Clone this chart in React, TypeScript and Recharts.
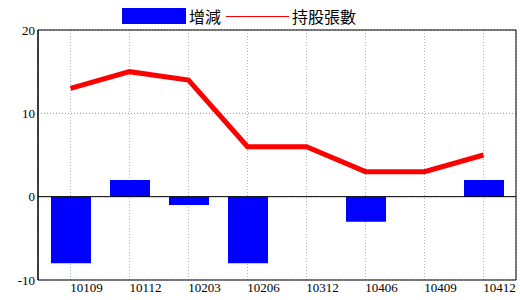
import React from 'react';
import {
  ComposedChart, Bar, Line, XAxis, YAxis, CartesianGrid, ReferenceLine,
} from 'recharts';

const MONTHS = ['10109', '10112', '10203', '10206', '10312', '10406', '10409', '10412'];
const CHANGE = [-8, 2, -1, -8, 0, -3, 0, 2];
const HOLDERS = [13, 15, 14, 6, 6, 3, 3, 5];
const Y_TICKS = [-10, 0, 10, 20];
const BAR_NAME = '增減';
const LINE_NAME = '持股張數';

const data = MONTHS.map((month, i) => ({ month, change: CHANGE[i], holders: HOLDERS[i] }));

const tickFont = { fontSize: 13, fill: '#000' };
const cjkFont = '"Noto Sans CJK TC", "Noto Sans CJK SC", sans-serif';

const App: React.FC = () => {
  return (
    <div
      style={{
        position: 'absolute', left: 0, top: 0, width: 520, height: 300,
        background: '#fff', fontFamily: '"Liberation Serif", "Times New Roman", serif',
      }}
    >
      {/* legend */}
      <div
        style={{
          position: 'absolute', left: 122, top: 6, height: 20,
          display: 'flex', alignItems: 'center', fontFamily: cjkFont, fontSize: 16, color: '#000',
        }}
      >
        <div style={{ width: 64, height: 16, background: '#0000ff' }} />
        <span style={{ marginLeft: 3 }}>{BAR_NAME}</span>
        <div style={{ width: 63, height: 1, background: '#ff0000', marginLeft: 5 }} />
        <span style={{ marginLeft: 3 }}>{LINE_NAME}</span>
      </div>

      <ComposedChart
        width={520}
        height={300}
        data={data}
        margin={{ top: 30, right: 4, bottom: 0, left: 0 }}
        barSize={40}
      >
        <CartesianGrid horizontal={false} stroke="#9bbccb" strokeDasharray="1 2" />
        <CartesianGrid vertical={false} stroke="#999999" strokeDasharray="1 2" />
        {/* top and right edges of the frame */}
        <CartesianGrid
          stroke="#000"
          horizontalCoordinatesGenerator={({ offset }: any) => [offset.top]}
          verticalCoordinatesGenerator={({ offset }: any) => [offset.left + offset.width]}
        />
        <XAxis
          dataKey="month"
          height={20}
          padding={{ left: 3, right: 3 }}
          tickLine={false}
          tickSize={0}
          tickMargin={3}
          dx={16}
          axisLine={{ stroke: '#000' }}
          tick={tickFont}
          interval={0}
        />
        <YAxis
          domain={[-10, 20]}
          ticks={Y_TICKS}
          width={38}
          tickLine={false}
          tickSize={0}
          tickMargin={3}
          axisLine={{ stroke: '#000', strokeWidth: 1.5 }}
          tick={tickFont}
        />
        <ReferenceLine y={0} stroke="#000" />
        <Bar dataKey="change" name={BAR_NAME} fill="#0000ff" isAnimationActive={false} />
        <Line
          type="linear"
          dataKey="holders"
          name={LINE_NAME}
          stroke="#ff0000"
          strokeWidth={5}
          dot={false}
          activeDot={false}
          isAnimationActive={false}
        />
      </ComposedChart>
    </div>
  );
};

export default App;
